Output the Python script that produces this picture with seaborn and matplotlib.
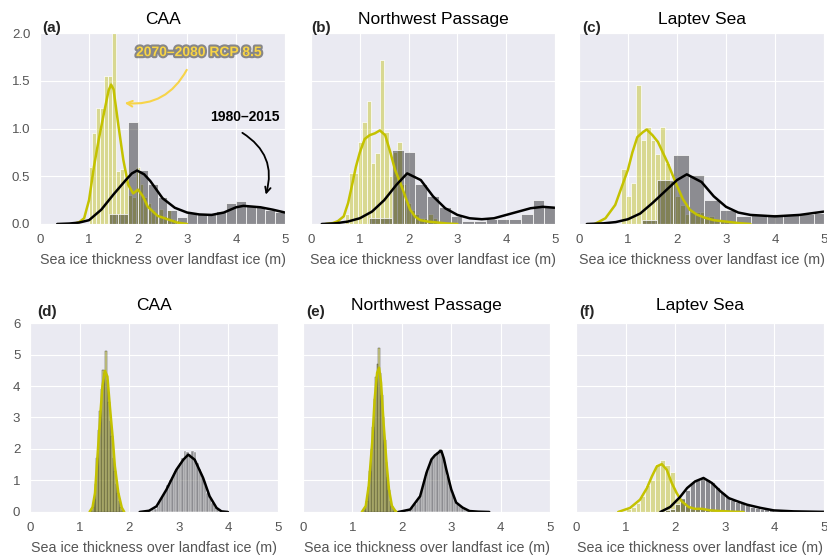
# ============================================
# LANDFAST SEA ICE THICKNESS DISTRIBUTIONS
# 1980-2015 vs 2070-2080 RCP 8.5
# ============================================

import numpy as np
import pandas as pd
import matplotlib.pyplot as plt
import matplotlib.patheffects as pe
import seaborn as sns

# ---------------------------
# DATA
# ---------------------------

regions = ["CAA", "Northwest Passage", "Laptev Sea"]
panel_labels = ["(a)", "(b)", "(c)", "(d)", "(e)", "(f)"]
xlabel = "Sea ice thickness over landfast ice (m)"
future_label = "2070\u20132080 RCP 8.5"
past_label = "1980\u20132015"

# histogram bins: first edge, bin width, bar heights (density)
# --- top row ---
a_fut_start, a_fut_width = 0.99, 0.08
a_fut_heights = [0.60, 0.95, 1.21, 1.21, 1.55, 1.55, 2.00, 0.55, 0.58, 0.45,
                 0.30, 0.28, 0.60, 0.42, 0.28, 0.22, 0.15, 0.10, 0.16, 0.08,
                 0.15, 0.05, 0.04, 0.02, 0.02]
a_past_start, a_past_width = 1.40, 0.20
a_past_heights = [0.10, 0.10, 1.07, 0.57, 0.42, 0.28, 0.15, 0.07, 0.13, 0.12,
                  0.10, 0.14, 0.22, 0.24, 0.20, 0.18, 0.15, 0.13]

b_fut_start, b_fut_width = 0.69, 0.09
b_fut_heights = [0.10, 0.53, 0.53, 0.86, 1.07, 1.29, 0.64, 0.74, 1.72, 0.96,
                 0.50, 0.75, 0.86, 0.42, 0.22, 0.15, 0.10, 0.06, 0.06, 0.10,
                 0.06]
b_past_start, b_past_width = 1.18, 0.24
b_past_heights = [0.06, 0.06, 0.77, 0.75, 0.42, 0.29, 0.18, 0.08, 0.03, 0.03,
                  0.05, 0.05, 0.05, 0.10, 0.25, 0.19]

c_fut_start, c_fut_width = 0.86, 0.10
c_fut_heights = [0.58, 0.29, 0.43, 1.46, 0.88, 1.02, 0.88, 0.73, 1.02, 0.64,
                 0.45, 0.29, 0.20, 0.10, 0.13, 0.13, 0.13, 0.08, 0.08, 0.04,
                 0.04, 0.03]
c_past_start, c_past_width = 1.28, 0.32
c_past_heights = [0.04, 0.46, 0.72, 0.51, 0.25, 0.15, 0.08, 0.10, 0.10, 0.10,
                  0.10, 0.12]

# --- bottom row ---
d_fut_start, d_fut_width = 1.22, 0.03
d_fut_heights = [0.05, 0.15, 0.40, 0.90, 1.70, 2.60, 3.20, 3.90, 4.50, 4.40,
                 5.10, 4.20, 3.50, 2.90, 2.40, 1.70, 1.30, 0.90, 0.60, 0.35,
                 0.15, 0.05]
d_past_start, d_past_width = 2.30, 0.05
d_past_heights = [0.01, 0.02, 0.04, 0.06, 0.10, 0.20, 0.35, 0.50, 0.65, 0.85,
                  1.00, 1.10, 1.30, 1.40, 1.55, 1.70, 1.95, 1.90, 1.85, 1.95,
                  1.90, 1.55, 1.35, 1.10, 0.85, 0.60, 0.45, 0.30, 0.15, 0.08,
                  0.04, 0.02]

e_fut_start, e_fut_width = 1.22, 0.03
e_fut_heights = [0.05, 0.15, 0.35, 0.80, 1.30, 2.00, 2.70, 3.60, 4.30, 4.70,
                 5.20, 4.40, 3.70, 3.00, 2.30, 1.60, 1.10, 0.70, 0.35, 0.20,
                 0.08, 0.03]
e_past_start, e_past_width = 2.00, 0.05
e_past_heights = [0.01, 0.02, 0.05, 0.08, 0.15, 0.25, 0.38, 0.55, 0.80, 1.10,
                  1.30, 1.55, 1.70, 1.80, 1.90, 2.00, 1.85, 1.55, 1.15, 0.85,
                  0.60, 0.40, 0.25, 0.18, 0.12, 0.08, 0.05, 0.03, 0.02, 0.015,
                  0.01, 0.01, 0.005, 0.005, 0.003, 0.002]

f_fut_start, f_fut_width = 1.00, 0.10
f_fut_heights = [0.10, 0.15, 0.30, 0.50, 0.85, 1.00, 1.53, 1.64, 1.50, 1.27,
                 0.42, 0.40, 0.20, 0.10, 0.08, 0.12, 0.08, 0.04, 0.02]
f_past_start, f_past_width = 1.80, 0.10
f_past_heights = [0.05, 0.10, 0.25, 0.45, 0.70, 0.95, 1.03, 1.08, 1.05, 0.95,
                  0.78, 0.62, 0.50, 0.38, 0.33, 0.28, 0.22, 0.17, 0.13, 0.10,
                  0.08, 0.06, 0.04, 0.035, 0.03, 0.02, 0.02, 0.01, 0.01, 0.01,
                  0.005, 0.005]

# density curves (x, y)
a_fut_kde_x = [0.68, 0.8, 0.9, 1.0, 1.1, 1.2, 1.3, 1.4, 1.45, 1.5, 1.6, 1.7,
               1.8, 1.9, 2.0, 2.1, 2.2, 2.4, 2.6, 2.8, 3.0]
a_fut_kde_y = [0, 0.02, 0.06, 0.25, 0.6, 0.89, 1.15, 1.4, 1.46, 1.41, 1.03,
               0.67, 0.41, 0.32, 0.36, 0.29, 0.18, 0.085, 0.05, 0.015, 0]
a_past_kde_x = [0.35, 0.6, 0.8, 1.0, 1.25, 1.5, 1.75, 1.875, 1.98, 2.125, 2.25,
                2.5, 2.75, 3.0, 3.25, 3.5, 3.75, 4.0, 4.15, 4.5, 4.75, 5.0]
a_past_kde_y = [0, 0.005, 0.015, 0.04, 0.15, 0.31, 0.46, 0.53, 0.56, 0.52,
                0.45, 0.27, 0.17, 0.12, 0.10, 0.095, 0.12, 0.175, 0.19, 0.175,
                0.15, 0.12]

b_fut_kde_x = [0.3, 0.45, 0.55, 0.67, 0.76, 0.85, 0.92, 1.0, 1.1, 1.2, 1.31,
               1.41, 1.52, 1.62, 1.72, 1.83, 1.93, 2.03, 2.14, 2.24, 2.4, 2.6,
               2.8, 3.0]
b_fut_kde_y = [0, 0.01, 0.03, 0.08, 0.22, 0.43, 0.6, 0.75, 0.89, 0.93, 0.95,
               0.98, 0.93, 0.76, 0.57, 0.43, 0.29, 0.15, 0.074, 0.04, 0.025,
               0.015, 0.005, 0]
b_past_kde_x = [0.22, 0.5, 0.75, 1.0, 1.25, 1.5, 1.75, 1.97, 2.25, 2.5, 2.75,
                3.0, 3.25, 3.5, 3.75, 4.0, 4.25, 4.5, 4.75, 5.0]
b_past_kde_y = [0, 0.007, 0.025, 0.06, 0.13, 0.25, 0.41, 0.53, 0.46, 0.29,
                0.165, 0.095, 0.06, 0.05, 0.06, 0.095, 0.13, 0.165, 0.18, 0.17]

c_fut_kde_x = [0.32, 0.54, 0.74, 0.88, 1.0, 1.09, 1.19, 1.3, 1.38, 1.5, 1.61,
               1.71, 1.81, 1.92, 2.0, 2.12, 2.26, 2.4, 2.57, 2.75, 3.0, 3.25,
               3.5]
c_fut_kde_y = [0, 0.06, 0.2, 0.4, 0.57, 0.75, 0.91, 0.96, 0.99, 0.93, 0.86,
               0.75, 0.64, 0.5, 0.4, 0.26, 0.15, 0.1, 0.065, 0.04, 0.025, 0.01,
               0]
c_past_kde_x = [0.16, 0.5, 0.75, 1.0, 1.25, 1.5, 1.75, 2.0, 2.2, 2.5, 2.75,
                3.0, 3.25, 3.5, 4.0, 4.5, 5.0]
c_past_kde_y = [0, 0.007, 0.02, 0.05, 0.11, 0.22, 0.34, 0.46, 0.52, 0.44,
                0.29, 0.18, 0.12, 0.095, 0.08, 0.095, 0.13]

d_fut_kde_x = [1.20, 1.26, 1.31, 1.37, 1.42, 1.46, 1.51, 1.56, 1.61, 1.67,
               1.71, 1.78, 1.85, 1.90]
d_fut_kde_y = [0, 0.15, 0.6, 2.0, 3.15, 4.0, 4.48, 4.3, 3.35, 2.3, 1.46, 0.61,
               0.14, 0]
d_past_kde_x = [2.21, 2.4, 2.55, 2.75, 2.95, 3.09, 3.19, 3.32, 3.49, 3.62,
                3.76, 3.86, 3.99]
d_past_kde_y = [0, 0.04, 0.18, 0.71, 1.34, 1.66, 1.82, 1.66, 1.08, 0.5, 0.13,
                0.02, 0]

e_fut_kde_x = [1.19, 1.27, 1.33, 1.40, 1.45, 1.50, 1.54, 1.58, 1.63, 1.69,
               1.74, 1.80, 1.87, 1.90]
e_fut_kde_y = [0, 0.19, 0.83, 2.2, 3.58, 4.42, 4.58, 4.1, 2.84, 1.57, 0.72,
               0.19, 0.03, 0]
e_past_kde_x = [1.93, 2.17, 2.37, 2.5, 2.6, 2.67, 2.73, 2.77, 2.8, 2.85, 2.9,
                3.0, 3.1, 3.23, 3.37, 3.55, 3.77]
e_past_kde_y = [0, 0.08, 0.5, 1.25, 1.67, 1.8, 1.87, 1.93, 1.94, 1.7, 1.35,
                0.72, 0.3, 0.14, 0.03, 0.01, 0]

f_fut_kde_x = [0.85, 1.09, 1.29, 1.43, 1.53, 1.63, 1.73, 1.83, 1.93, 2.03,
               2.13, 2.27, 2.4, 2.54, 2.71, 2.91, 3.15, 3.38]
f_fut_kde_y = [0, 0.13, 0.39, 0.76, 1.13, 1.45, 1.52, 1.34, 0.92, 0.6, 0.34,
               0.16, 0.1, 0.1, 0.05, 0.03, 0.01, 0]
f_past_kde_x = [1.7, 1.9, 2.1, 2.24, 2.4, 2.57, 2.74, 2.91, 3.08, 3.25, 3.45,
                3.72, 3.99, 4.39, 4.93, 5.0]
f_past_kde_y = [0, 0.16, 0.48, 0.76, 0.97, 1.08, 0.92, 0.66, 0.44, 0.34, 0.23,
                0.13, 0.05, 0.02, 0.005, 0.005]

panels = [
    (a_fut_start, a_fut_width, a_fut_heights, a_fut_kde_x, a_fut_kde_y,
     a_past_start, a_past_width, a_past_heights, a_past_kde_x, a_past_kde_y),
    (b_fut_start, b_fut_width, b_fut_heights, b_fut_kde_x, b_fut_kde_y,
     b_past_start, b_past_width, b_past_heights, b_past_kde_x, b_past_kde_y),
    (c_fut_start, c_fut_width, c_fut_heights, c_fut_kde_x, c_fut_kde_y,
     c_past_start, c_past_width, c_past_heights, c_past_kde_x, c_past_kde_y),
    (d_fut_start, d_fut_width, d_fut_heights, d_fut_kde_x, d_fut_kde_y,
     d_past_start, d_past_width, d_past_heights, d_past_kde_x, d_past_kde_y),
    (e_fut_start, e_fut_width, e_fut_heights, e_fut_kde_x, e_fut_kde_y,
     e_past_start, e_past_width, e_past_heights, e_past_kde_x, e_past_kde_y),
    (f_fut_start, f_fut_width, f_fut_heights, f_fut_kde_x, f_fut_kde_y,
     f_past_start, f_past_width, f_past_heights, f_past_kde_x, f_past_kde_y),
]

# ---------------------------
# STYLE
# ---------------------------

sns.set_style("darkgrid")
plt.rcParams['font.family'] = ['Liberation Sans', 'DejaVu Sans']

fut_color = "#c4c200"
past_color = "black"
text_gray = "#555555"

# axes positions in figure fractions
axes_pos = [
    [0.0484, 0.5964, 0.2963, 0.3441],
    [0.3761, 0.5964, 0.2950, 0.3441],
    [0.7001, 0.5964, 0.2963, 0.3441],
    [0.0363, 0.0775, 0.2999, 0.3405],
    [0.3664, 0.0775, 0.2987, 0.3405],
    [0.6965, 0.0775, 0.2999, 0.3405],
]
label_x = [0.008, 0.0, 0.012, 0.028, 0.012, 0.012]


def draw_hist(ax, start, width, heights, color, edge="white"):
    edges = start + width * np.arange(len(heights) + 1)
    hist_df = pd.DataFrame({
        "thickness": (edges[:-1] + edges[1:]) / 2,
        "density": heights,
    })
    # narrow bins get thinner separators so they don't look striped
    edge_lw = 0.5 if width >= 0.08 else 0.3
    sns.histplot(data=hist_df, x="thickness", weights="density",
                 bins=list(edges), color=color, alpha=0.4,
                 edgecolor=edge, linewidth=edge_lw, ax=ax)


# ---------------------------
# PLOT
# ---------------------------

fig = plt.figure(figsize=(8.27, 5.55), dpi=100)

for i, p in enumerate(panels):
    ax = fig.add_axes(axes_pos[i])
    (fs, fw, fh, fkx, fky, ps, pw, ph, pkx, pky) = p

    # very narrow yellow bins read as olive in the original
    draw_hist(ax, fs, fw, fh, "y", edge="white" if fw >= 0.08 else "#3a3a20")
    draw_hist(ax, ps, pw, ph, "k", edge="white")
    sns.lineplot(x=fkx, y=fky, color=fut_color, lw=1.8, ax=ax)
    sns.lineplot(x=pkx, y=pky, color=past_color, lw=1.8, ax=ax)

    top = i < 3
    ax.set_xlim(0, 5)
    ax.set_xticks([0, 1, 2, 3, 4, 5])
    if top:
        ax.set_ylim(0, 2.0)
        ax.set_yticks([0, 0.5, 1.0, 1.5, 2.0])
        ylabels = ["0.0", "0.5", "1.0", "1.5", "2.0"]
    else:
        ax.set_ylim(0, 6)
        ax.set_yticks([0, 1, 2, 3, 4, 5, 6])
        ylabels = ["0", "1", "2", "3", "4", "5", "6"]
    if i % 3 == 0:
        ax.set_yticklabels(ylabels)
    else:
        ax.set_yticklabels([])

    ax.tick_params(axis="both", length=0, pad=7, labelsize=9.5,
                   labelcolor=text_gray)
    ax.set_xlabel(xlabel, fontsize=10.3, color=text_gray, labelpad=5)
    ax.set_ylabel("")
    ax.set_title(regions[i % 3], fontsize=12.5, color="black",
                 pad=6.5 if top else 9.5)
    ax.text(label_x[i], 1.005 if top else 1.037, panel_labels[i],
            transform=ax.transAxes, fontsize=11, fontweight="bold",
            va="baseline", ha="left")

    # ---------------------------
    # ANNOTATIONS (panel a)
    # ---------------------------
    if i == 0:
        ax.text(3.24, 1.8, future_label, color="#f7d449", fontsize=10,
                fontweight="bold", ha="center", va="center",
                path_effects=[pe.withStroke(linewidth=3, foreground="#444444",
                                            alpha=0.6)])
        ax.annotate("", xy=(1.67, 1.27), xytext=(3.02, 1.64),
                    arrowprops=dict(arrowstyle="->", color="#f7d449", lw=1.5,
                                    connectionstyle="arc3,rad=-0.35"))
        ax.text(4.18, 1.12, past_label, color="black", fontsize=10,
                fontweight="bold", ha="center", va="center")
        ax.annotate("", xy=(4.59, 0.28), xytext=(4.08, 0.97),
                    arrowprops=dict(arrowstyle="->", color="black", lw=1.3,
                                    connectionstyle="arc3,rad=-0.4"))

plt.savefig("out.png", dpi=100)
